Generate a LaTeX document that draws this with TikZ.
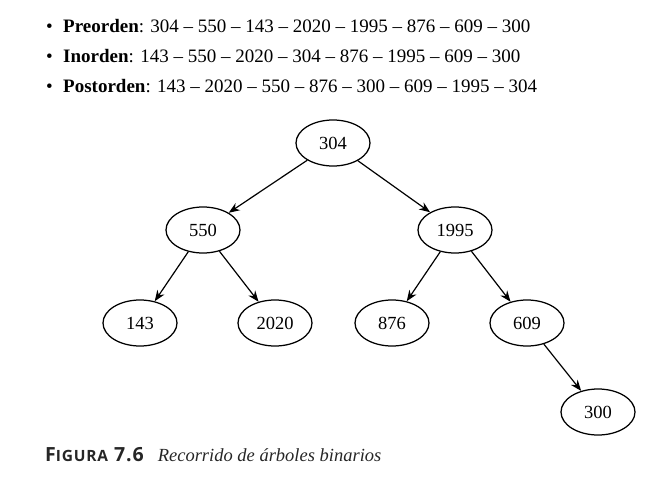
\documentclass[tikz,border=0pt]{standalone}
\usepackage{fontspec}
\setmainfont{Liberation Serif}
\newfontfamily\capfont[LetterSpace=5]{Open Sans}
\usetikzlibrary{arrows.meta,shapes.geometric}
\begin{document}
\begin{tikzpicture}[x=1pt,y=-1pt,
  tnode/.style={draw,ellipse,line width=1.25pt,minimum width=74pt,minimum height=46pt,inner sep=0pt,font=\fontsize{18.5}{20}\selectfont},
  edge/.style={line width=1.2pt,-{Stealth[length=11pt,width=8.5pt]}},
  txt/.style={anchor=base west,inner sep=0pt,font=\fontsize{19}{21}\selectfont}]
\useasboundingbox (0,0) rectangle (670,496);
% traversal lines
\node[txt] (b1) at (46,32) {\textbullet};
\node[txt] (l1) at (63,32) {\textbf{Preorden}: 304 -- 550 -- 143 -- 2020 -- 1995 -- 876 -- 609 -- 300};
\node[txt] (b2) at (46,62) {\textbullet};
\node[txt] (l2) at (63,62) {\textbf{Inorden}: 143 -- 550 -- 2020 -- 304 -- 876 -- 1995 -- 609 -- 300};
\node[txt] (b3) at (46,92) {\textbullet};
\node[txt] (l3) at (63,92) {\textbf{Postorden}: 143 -- 2020 -- 550 -- 876 -- 300 -- 609 -- 1995 -- 304};
% tree
\node[tnode] (n304) at (333,143) {304};
\node[tnode] (n550) at (203,230) {550};
\node[tnode] (n1995) at (455,230) {1995};
\node[tnode] (n143) at (140,323) {143};
\node[tnode] (n2020) at (275,323) {2020};
\node[tnode] (n876) at (392,323) {876};
\node[tnode] (n609) at (527,323) {609};
\node[tnode] (n300) at (598,412) {300};
\draw[edge] (n304) -- (n550);
\draw[edge] (n304) -- (n1995);
\draw[edge] (n550) -- (n143);
\draw[edge] (n550) -- (n2020);
\draw[edge] (n1995) -- (n876);
\draw[edge] (n1995) -- (n609);
\draw[edge] (n609) -- (n300);
% caption
\node[anchor=base west,inner sep=0pt,text=black!85] (cap) at (45,461)
  {\capfont\bfseries\fontsize{19.5}{20}\selectfont F\fontsize{15.5}{16}\selectfont IGURA\fontsize{19.5}{20}\selectfont\ 7.6\hspace{14pt}\normalfont\rmfamily\itshape\fontsize{18.5}{21}\selectfont Recorrido de árboles binarios};
\end{tikzpicture}
\end{document}
